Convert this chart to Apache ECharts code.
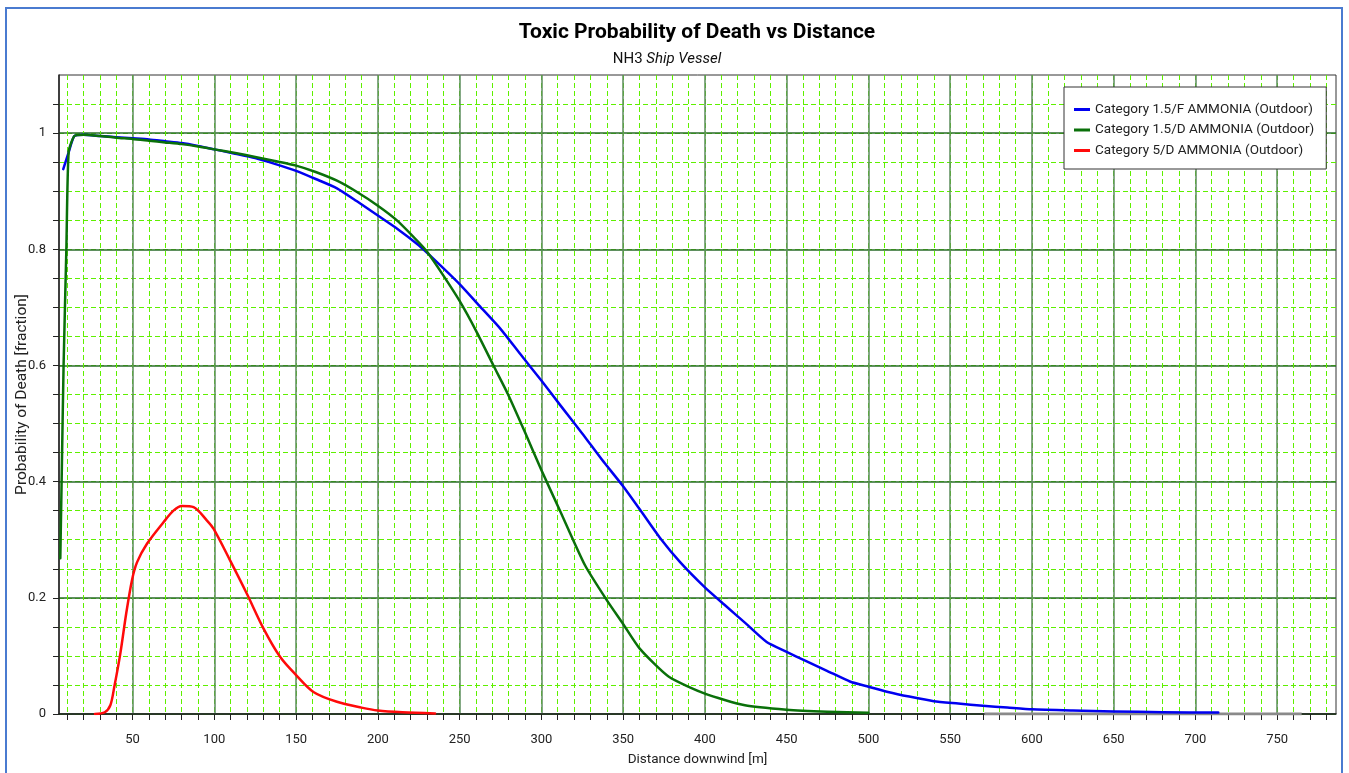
<!DOCTYPE html>
<html>
<head>
<meta charset="utf-8">
<title>Toxic Probability of Death vs Distance</title>
<script src="https://cdn.jsdelivr.net/npm/echarts@6/dist/echarts.min.js"></script>
<style>
  html, body { margin: 0; padding: 0; background: #ffffff; }
  #chart { width: 1349px; height: 773px; }
</style>
</head>
<body>
<div id="chart"></div>
<script>
// Probability of death [fraction] against distance downwind [m]
const seriesNames = [
  'Category 1.5/F AMMONIA (Outdoor)',
  'Category 1.5/D AMMONIA (Outdoor)',
  'Category 5/D AMMONIA (Outdoor)'
];

const cat15F = [
  [7.6, 0.938], [10.9, 0.967], [14.4, 0.995], [20, 0.997], [30, 0.995], [40, 0.993],
  [50, 0.991], [60, 0.989], [70, 0.986], [80, 0.983], [90, 0.978], [100, 0.972],
  [112, 0.965], [125, 0.957], [137, 0.947], [150, 0.935], [162, 0.921], [175, 0.905],
  [187, 0.883], [200, 0.858], [212, 0.835], [225, 0.807], [232, 0.789], [250, 0.740],
  [262, 0.703], [275, 0.663], [287, 0.620], [300, 0.574], [312, 0.530], [325, 0.483],
  [337, 0.438], [350, 0.392], [362, 0.345], [372.6, 0.303], [385, 0.261], [400, 0.218],
  [412, 0.188], [425, 0.156], [437.8, 0.124], [450, 0.107], [462, 0.091], [475, 0.074],
  [488.7, 0.056], [500, 0.047], [512, 0.038], [525, 0.030], [540, 0.022], [555, 0.018],
  [570, 0.014], [585, 0.011], [600, 0.008], [625, 0.006], [650, 0.0045], [680, 0.003],
  [714, 0.0025]
];

const cat15D = [
  [5.8, 0.268], [6.6, 0.40], [7.8, 0.60], [9.5, 0.80], [10.9, 0.967], [14.4, 0.995],
  [20, 0.997], [30, 0.995], [40, 0.992], [50, 0.990], [60, 0.987], [70, 0.984],
  [80, 0.981], [90, 0.977], [100, 0.972], [112, 0.966], [125, 0.959], [137, 0.952],
  [150, 0.944], [162, 0.933], [175, 0.918], [187, 0.899], [200, 0.875], [212, 0.849],
  [225, 0.812], [230, 0.796], [240, 0.755], [250, 0.711], [260, 0.660], [270.7, 0.600],
  [279.5, 0.551], [290, 0.485], [300, 0.420], [311.4, 0.350], [326.7, 0.256],
  [340, 0.196], [350, 0.155], [360.3, 0.112], [378, 0.064], [400, 0.035],
  [424.5, 0.015], [450, 0.0075], [475, 0.004], [500, 0.002]
];

const cat5D = [
  [27, 0], [33, 0.003], [36.4, 0.015], [38.8, 0.0465], [42.5, 0.104], [46.1, 0.173],
  [49.6, 0.230], [52.7, 0.261], [58.8, 0.293], [68.9, 0.330], [75, 0.350], [80.2, 0.358],
  [87.3, 0.356], [95.5, 0.333], [99.5, 0.319], [109.7, 0.264], [119.9, 0.207],
  [130.1, 0.147], [140.3, 0.098], [150, 0.067], [160.6, 0.038], [175, 0.021],
  [190, 0.011], [200, 0.006], [215, 0.003], [235, 0.001]
];

// faint grey trace lying along the zero line at the far end
const greyTrace = [[571, 0], [765, 0]];

// Axis ticks and labels
const xMin = 5, xMax = 786;
const yMin = 0, yMax = 1.1;
const xMinorTicks = [];
for (let v = 10; v <= 780; v += 10) xMinorTicks.push(v);
const xMajorTicks = [50, 100, 150, 200, 250, 300, 350, 400, 450, 500, 550, 600, 650, 700, 750];
const yMinorTicks = [0, 0.05, 0.1, 0.15, 0.2, 0.25, 0.3, 0.35, 0.4, 0.45, 0.5, 0.55,
                     0.6, 0.65, 0.7, 0.75, 0.8, 0.85, 0.9, 0.95, 1, 1.05];
const yMajorTicks = [0, 0.2, 0.4, 0.6, 0.8, 1];

const FONT = 'Roboto';
const minorGrid = { show: true, lineStyle: { color: '#5ff000', width: 1, type: [5, 3] } };

const chart = echarts.init(document.getElementById('chart'), null, { renderer: 'canvas' });

const lineSeries = (name, data, color, z, smooth) => ({
  name, type: 'line', data, color,
  symbol: 'none', showSymbol: false, smooth,
  lineStyle: { color, width: 2.5, cap: 'round', join: 'round' }, z
});

const option = {
  backgroundColor: '#ffffff',
  animation: false,
  textStyle: { fontFamily: FONT },
  title: [
    {
      text: 'Toxic Probability of Death vs Distance',
      left: 692, top: 17, textAlign: 'center',
      textStyle: { fontFamily: FONT, fontSize: 21, fontWeight: 'bold', color: '#000000' }
    },
    {
      text: '{a|NH3 }{b|Ship Vessel}',
      left: 662, top: 47, textAlign: 'center',
      textStyle: {
        fontWeight: 'normal',
        rich: {
          a: { fontFamily: FONT, fontSize: 15, fontWeight: 'normal', color: '#111111' },
          b: { fontFamily: FONT, fontSize: 15, fontWeight: 'normal', fontStyle: 'italic', color: '#111111' }
        }
      }
    }
  ],
  legend: {
    data: seriesNames,
    orient: 'vertical',
    left: 1064, top: 87,
    backgroundColor: '#ffffff',
    borderColor: '#333333', borderWidth: 1,
    padding: [15, 12, 11, 10],
    itemGap: 5.5,
    itemWidth: 16, itemHeight: 3,
    icon: 'rect',
    textStyle: { fontFamily: FONT, fontSize: 13.5, color: '#222222', lineHeight: 15 }
  },
  grid: {
    left: 59, right: 13, top: 75, bottom: 59,
    outerBoundsMode: 'none',
    containLabel: false,
    show: true, borderColor: '#333333', borderWidth: 1
  },
  xAxis: [
    {
      type: 'value', min: xMin, max: xMax, position: 'bottom',
      axisLine: { show: true, onZero: false, lineStyle: { color: '#222222', width: 1.5 } },
      axisTick: { show: true, customValues: xMinorTicks, length: 6, lineStyle: { color: '#222222' } },
      axisLabel: { show: false },
      splitLine: minorGrid
    },
    {
      type: 'value', min: xMin, max: xMax, position: 'bottom',
      name: 'Distance downwind [m]', nameLocation: 'middle', nameGap: 39,
      nameMoveOverlap: false,
      nameTextStyle: { fontFamily: FONT, fontSize: 13.5, color: '#222222' },
      axisLine: { show: false },
      axisTick: { show: false, customValues: xMajorTicks },
      axisLabel: { show: true, customValues: xMajorTicks, margin: 19,
                   fontFamily: FONT, fontSize: 13, color: '#222222' },
      splitLine: { show: true, lineStyle: { color: '#5b8c5b', width: 1.5 } }
    }
  ],
  yAxis: [
    {
      type: 'value', min: yMin, max: yMax,
      axisLine: { show: true, onZero: false, lineStyle: { color: '#222222', width: 1.5 } },
      axisTick: { show: true, customValues: yMinorTicks, length: 6, lineStyle: { color: '#222222' } },
      axisLabel: { show: false },
      splitLine: minorGrid
    },
    {
      type: 'value', min: yMin, max: yMax, position: 'left',
      name: 'Probability of Death [fraction]', nameLocation: 'middle', nameGap: 29,
      nameMoveOverlap: false,
      nameTextStyle: { fontFamily: FONT, fontSize: 15.5, color: '#222222' },
      axisLine: { show: false },
      axisTick: { show: false, customValues: yMajorTicks },
      axisLabel: { show: true, customValues: yMajorTicks, margin: 13,
                   fontFamily: FONT, fontSize: 13, color: '#222222' },
      splitLine: { show: true, lineStyle: { color: '#2a6b2a', width: 1.5 } }
    }
  ],
  series: [
    {
      name: 'grey trace', type: 'line', data: greyTrace, silent: true,
      showSymbol: false, symbol: 'none', z: 1,
      lineStyle: { color: '#8a8a8a', width: 3 }
    },
    lineSeries(seriesNames[0], cat15F, '#0000f0', 4, 0.2),
    lineSeries(seriesNames[1], cat15D, '#0a700a', 5, 0.2),
    lineSeries(seriesNames[2], cat5D, '#ff0a0a', 4, 0.3)
  ],
  graphic: [
    {
      type: 'rect', silent: true, z: 100,
      shape: { x: 6, y: 8, width: 1336, height: 800 },
      style: { fill: null, stroke: '#4a7bd0', lineWidth: 2 }
    }
  ]
};

chart.setOption(option);
</script>
</body>
</html>
